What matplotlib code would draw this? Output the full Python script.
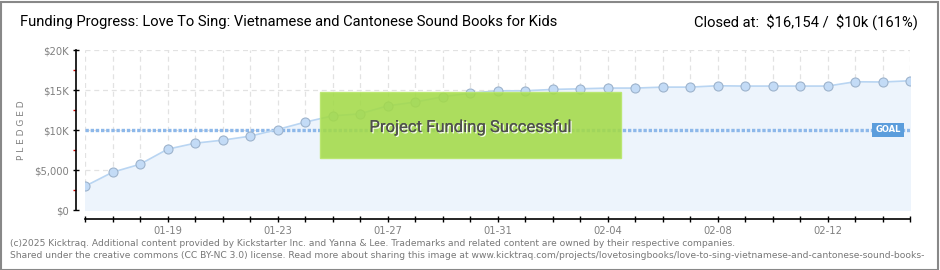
import numpy as np
import matplotlib
matplotlib.use('Agg')
import matplotlib.pyplot as plt
import matplotlib.patheffects as pe
from matplotlib.patches import Rectangle

# daily pledged totals, 2025-01-16 .. 2025-02-15
dates = ['01-16', '01-17', '01-18', '01-19', '01-20', '01-21', '01-22', '01-23',
         '01-24', '01-25', '01-26', '01-27', '01-28', '01-29', '01-30', '01-31',
         '02-01', '02-02', '02-03', '02-04', '02-05', '02-06', '02-07', '02-08',
         '02-09', '02-10', '02-11', '02-12', '02-13', '02-14', '02-15']
pledged = [2970, 4720, 5720, 7600, 8350, 8730, 9230, 10060, 10980, 11770, 12020,
           13020, 13490, 14150, 14610, 14900, 14900, 15070, 15150, 15240, 15240,
           15360, 15360, 15530, 15490, 15490, 15490, 15490, 16030, 16000, 16154]
goal = 10000
y_ticks = [0, 5000, 10000, 15000, 20000]
y_labels = ['$0', '$5,000', '$10K', '$15K', '$20K']
labelled_every = 4
label_offset = 3

title = 'Funding Progress: Love To Sing: Vietnamese and Cantonese Sound Books for Kids'
closed = 'Closed at:  \\$16,154 /  \\$10k (161%)'
footer1 = ('(c)2025 Kicktraq. Additional content provided by Kickstarter Inc. and Yanna & Lee. '
           'Trademarks and related content are owned by their respective companies.')
footer2 = ('Shared under the creative commons (CC BY-NC 3.0) license. Read more about sharing this '
           'image at www.kicktraq.com/projects/lovetosingbooks/love-to-sing-vietnamese-and-cantonese-sound-books-')

W, H = 940, 270
narrow = ['Roboto', 'DejaVu Sans']

fig = plt.figure(figsize=(W / 100, H / 100), dpi=100)
fig.patch.set_facecolor('white')


def px(x0, y0, x1, y1):
    # pixel box (top-left origin) -> figure fraction rect
    return [x0 / W, 1 - y1 / H, (x1 - x0) / W, (y1 - y0) / H]


ax = fig.add_axes(px(85, 50, 910, 210))
ax.set_facecolor('none')
x = np.arange(len(pledged))

ax.fill_between(x, pledged, 0, color='#edf4fc', zorder=1)
ax.plot(x, pledged, color='#b9d5f2', lw=1.2, zorder=3)
ax.plot(x, pledged, ls='none', marker='o', ms=6.5, mfc='#c3dbf6', mec='#9db3cc',
        mew=0.8, zorder=4)
ax.axhline(goal, color='#8db8ea', lw=2.4, ls=(0, (1.0, 0.55)), zorder=2)

ax.set_xlim(0, len(pledged) - 1)
ax.set_ylim(0, 20000)

ax.set_xticks(x)
ax.set_xticklabels([d if (i - label_offset) % labelled_every == 0 else ''
                    for i, d in enumerate(dates)])
ax.set_yticks(y_ticks)
ax.set_yticklabels(y_labels)
ax.set_yticks([2500, 7500, 12500, 17500], minor=True)
ax.grid(True, color='#e2e2e2', ls=(0, (4, 3)), lw=0.9, zorder=0)
ax.set_axisbelow(True)

for s in ['top', 'right']:
    ax.spines[s].set_visible(False)
ax.spines['left'].set_position(('outward', 6.5))
ax.spines['bottom'].set_position(('outward', 6.5))
ax.spines['left'].set_linewidth(1.2)
ax.spines['bottom'].set_linewidth(1.2)
ax.tick_params(axis='both', which='major', direction='inout', length=4, width=1,
               colors='black', labelcolor='#808080', labelsize=7.2, pad=3)
ax.tick_params(axis='y', which='minor', direction='out', length=2.5, width=1,
               color='#cc0000')
ax.set_ylabel('P L E D G E D', color='#808080', fontsize=6.5, labelpad=6)

# goal marker
fig.text(888 / W, 1 - 130 / H, 'GOAL', color='white', fontsize=6, ha='center',
         va='center', fontweight='bold',
         bbox=dict(boxstyle='square,pad=0.35', fc='#5b9ddc', ec='none'))

# success banner (slightly see-through, like the original)
fig.add_artist(Rectangle((320 / W, 1 - 158 / H), 301 / W, 66 / H,
                         transform=fig.transFigure, fc='#a3da48', ec='#b8e66a',
                         lw=1, alpha=0.88, zorder=5))
fig.text(470 / W, 1 - 127 / H, 'Project Funding Successful', color='#4f4f4f',
         fontsize=12, family=narrow, ha='center', va='center', zorder=6,
         path_effects=[pe.withSimplePatchShadow(offset=(1, -1), shadow_rgbFace='white',
                                                alpha=0.9), pe.Normal()])

fig.text(20 / W, 1 - 22 / H, title, fontsize=10.6, family=narrow,
         color='black', va='center', ha='left')
fig.text(918 / W, 1 - 22 / H, closed, fontsize=10.6, family=narrow,
         color='black', va='center', ha='right')

fig.text(10 / W, 1 - 243 / H, footer1, fontsize=6.6, color='#777777', va='center')
fig.text(10 / W, 1 - 255 / H, footer2, fontsize=6.6, color='#777777', va='center')

# outer frame
fig.add_artist(Rectangle((0.5 / W, 0.5 / H), (W - 3) / W, (H - 2) / H,
                         transform=fig.transFigure, fc='none', ec='#888888', lw=1.5))

fig.savefig('out.png', dpi=100)
